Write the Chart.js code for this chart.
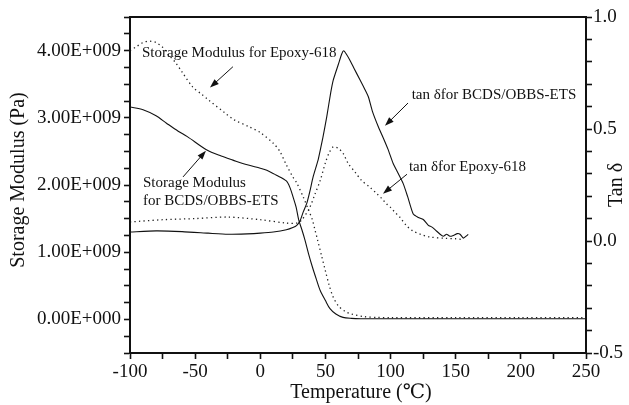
<!DOCTYPE html>
<html>
<head>
<meta charset="utf-8">
<script src="https://cdn.jsdelivr.net/npm/chart.js@4"></script>
<style>
  html, body { margin: 0; padding: 0; background: #fff; }
  #wrap { width: 629px; height: 405px; }
</style>
</head>
<body>
<div id="wrap"><canvas id="dmaChart" width="629" height="405"></canvas></div>
<script>
// Storage modulus (x1e9 Pa) vs temperature
const epoxyModT = [-100, -95, -90, -85, -80, -75, -70, -65, -60, -52, -45, -40, -27, -20, -9, 0, 10, 15, 20, 25, 28, 33, 37, 40, 42, 44, 47, 50, 53, 56, 60, 65, 70, 80, 90, 100, 150, 200, 250];
const epoxyModE = [4.0, 4.06, 4.12, 4.14, 4.12, 4.05, 3.93, 3.82, 3.68, 3.46, 3.35, 3.27, 3.07, 2.97, 2.87, 2.78, 2.62, 2.5, 2.3, 2.12, 2.03, 1.82, 1.63, 1.48, 1.33, 1.18, 0.95, 0.72, 0.5, 0.33, 0.2, 0.12, 0.08, 0.04, 0.03, 0.025, 0.025, 0.025, 0.025];

const bcdsModT = [-100, -90, -80, -72, -63, -56, -41, -30, -21, -10, 0, 5, 12, 20, 23, 25.5, 27.5, 29.5, 32, 34.3, 37, 40, 43, 46, 50, 53.5, 58, 63.5, 70, 77, 100, 150, 200, 250];
const bcdsModE = [3.16, 3.12, 3.03, 2.92, 2.80, 2.72, 2.52, 2.43, 2.37, 2.30, 2.25, 2.22, 2.15, 2.06, 1.95, 1.8, 1.67, 1.48, 1.33, 1.18, 0.98, 0.78, 0.6, 0.43, 0.28, 0.16, 0.08, 0.03, 0.015, 0.01, 0.01, 0.01, 0.01, 0.01];

// tan delta vs temperature
const bcdsTanT = [-100, -80, -60, -40, -25, -10, 0, 10, 20, 25, 28, 30.5, 33, 35.8, 38, 40.5, 44.3, 46, 48, 51, 54, 56, 60, 62.5, 64, 66, 68.8, 72, 76.5, 80, 83, 86, 90.6, 94.4, 98, 102, 106, 109.7, 113, 117.4, 121.3, 125.1, 129, 131.5, 134.1, 138, 140.5, 143, 145.6, 148.2, 151.3, 153.3, 155.9, 158.5, 159.6];
const bcdsTan = [0.04, 0.045, 0.042, 0.035, 0.03, 0.032, 0.035, 0.04, 0.05, 0.06, 0.07, 0.09, 0.13, 0.17, 0.22, 0.285, 0.36, 0.405, 0.46, 0.554, 0.66, 0.718, 0.79, 0.835, 0.849, 0.835, 0.807, 0.77, 0.72, 0.68, 0.643, 0.58, 0.51, 0.46, 0.41, 0.346, 0.30, 0.256, 0.20, 0.12, 0.105, 0.096, 0.07, 0.063, 0.051, 0.03, 0.021, 0.03, 0.021, 0.025, 0.033, 0.03, 0.013, 0.024, 0.03];

const epoxyTanT = [-100, -75, -50, -25, 0, 20, 28, 32, 38, 42, 46, 50, 53, 56, 60, 63.7, 67.5, 72.7, 77.8, 84.2, 89.3, 93.2, 97, 100, 103, 107, 112, 117, 123, 130, 142, 150, 156];
const epoxyTan = [0.085, 0.095, 0.10, 0.107, 0.095, 0.08, 0.08, 0.095, 0.15, 0.21, 0.27, 0.35, 0.395, 0.42, 0.413, 0.39, 0.346, 0.308, 0.27, 0.24, 0.212, 0.19, 0.165, 0.15, 0.13, 0.107, 0.07, 0.045, 0.03, 0.018, 0.012, 0.01, 0.006];

// axis ranges / ticks
const xRange = [-100, 250];
const modRange = [-0.5e9, 4.5e9];
const tanRange = [-0.5, 1.0];

// annotations: text placed in (temperature, modulus) units, arrows from -> to
const notes = [
  { lines: ["Storage Modulus for Epoxy-618"], t: -90.8, e: 3.97, from: [-21, 3.76], to: [-38.6, 3.45] },
  { lines: ["Storage Modulus", "for BCDS/OBBS-ETS"], t: -90, e: 2.03, from: [-59.3, 2.12], to: [-41.7, 2.51] },
  { lines: ["tan \u03b4for BCDS/OBBS-ETS"], t: 116.2, e: 3.34, from: [113.4, 3.22], to: [95.7, 2.88] },
  { lines: ["tan \u03b4for Epoxy-618"], t: 114.1, e: 2.27, from: [112.6, 2.16], to: [94.2, 1.87] }
];

const toPoints = (xs, ys, k) => xs.map((x, i) => ({ x: x, y: ys[i] * k }));
const serif = "'Liberation Serif', 'DejaVu Serif', serif";
const ink = "#111";

function modLabel(v) {
  const n = v / 1e9;
  if (Math.abs(n - Math.round(n)) > 1e-6) return "";
  return n.toFixed(2) + (Math.round(n) === 0 ? "E+000" : "E+009");
}

function arrow(ctx, x1, y1, x2, y2) {
  const a = Math.atan2(y2 - y1, x2 - x1);
  const len = 9, w = 3.2;
  ctx.beginPath();
  ctx.moveTo(x1, y1);
  ctx.lineTo(x2 - Math.cos(a) * len * 0.8, y2 - Math.sin(a) * len * 0.8);
  ctx.stroke();
  ctx.beginPath();
  ctx.moveTo(x2, y2);
  ctx.lineTo(x2 - Math.cos(a) * len - Math.sin(a) * w, y2 - Math.sin(a) * len + Math.cos(a) * w);
  ctx.lineTo(x2 - Math.cos(a) * len + Math.sin(a) * w, y2 - Math.sin(a) * len - Math.cos(a) * w);
  ctx.closePath();
  ctx.fill();
}

const extras = {
  id: "extras",
  afterDraw(chart) {
    const { ctx, chartArea: a, scales } = chart;
    const xs = scales.x, ys = scales.y;
    ctx.save();
    // frame
    ctx.strokeStyle = ink;
    ctx.lineWidth = 2;
    ctx.strokeRect(a.left, a.top, a.right - a.left, a.bottom - a.top);

    // annotations
    ctx.fillStyle = ink;
    ctx.lineWidth = 1;
    ctx.font = "15px " + serif;
    ctx.textBaseline = "middle";
    ctx.textAlign = "left";
    notes.forEach(n => {
      const px = xs.getPixelForValue(n.t);
      const py = ys.getPixelForValue(n.e * 1e9);
      n.lines.forEach((s, i) => ctx.fillText(s, px, py + i * 18));
      arrow(ctx,
        xs.getPixelForValue(n.from[0]), ys.getPixelForValue(n.from[1] * 1e9),
        xs.getPixelForValue(n.to[0]), ys.getPixelForValue(n.to[1] * 1e9));
    });

    // axis titles
    ctx.font = "20px " + serif;
    ctx.textAlign = "center";
    ctx.fillText("Temperature (\u2103)", 361, 393);
    ctx.save();
    ctx.translate(19, 180);
    ctx.rotate(-Math.PI / 2);
    ctx.fillText("Storage Modulus (Pa)", 0, 0);
    ctx.restore();
    ctx.save();
    ctx.translate(617, 185);
    ctx.rotate(-Math.PI / 2);
    ctx.fillText("Tan \u03b4", 0, 0);
    ctx.restore();
    ctx.restore();
  }
};

const solid = { borderColor: ink, borderWidth: 1.1, pointRadius: 0, fill: false };
const dotted = { borderColor: "#222", borderWidth: 1.3, borderDash: [1.3, 3.2], pointRadius: 0, fill: false };

const tickFont = { family: serif, size: 19 };
const axisGrid = { display: true, drawOnChartArea: false, drawTicks: true, tickLength: 6, color: ink, tickColor: ink, tickWidth: 1.6 };
const axisBorder = { display: true, color: ink, width: 2 };

new Chart(document.getElementById("dmaChart").getContext("2d"), {
  type: "line",
  data: {
    datasets: [
      Object.assign({ label: "Storage Modulus for Epoxy-618", data: toPoints(epoxyModT, epoxyModE, 1e9), yAxisID: "y", tension: 0.3 }, dotted),
      Object.assign({ label: "Storage Modulus for BCDS/OBBS-ETS", data: toPoints(bcdsModT, bcdsModE, 1e9), yAxisID: "y", tension: 0.3 }, solid),
      Object.assign({ label: "tan \u03b4 for BCDS/OBBS-ETS", data: toPoints(bcdsTanT, bcdsTan, 1), yAxisID: "y2", tension: 0.2 }, solid),
      Object.assign({ label: "tan \u03b4 for Epoxy-618", data: toPoints(epoxyTanT, epoxyTan, 1), yAxisID: "y2", tension: 0.3 }, dotted)
    ]
  },
  options: {
    responsive: false,
    animation: false,
    layout: { padding: { top: 17, left: 0, right: 0, bottom: 0 } },
    plugins: { legend: { display: false }, tooltip: { enabled: false } },
    scales: {
      x: {
        type: "linear",
        min: xRange[0], max: xRange[1],
        grid: axisGrid, border: axisBorder,
        afterFit: s => { s.height = 52; },
        ticks: {
          stepSize: 25, maxTicksLimit: 100, autoSkip: false, maxRotation: 0, padding: 2,
          color: ink, font: tickFont,
          callback: v => (v % 50 === 0 ? String(v) : "")
        }
      },
      y: {
        type: "linear", position: "left",
        min: modRange[0], max: modRange[1],
        grid: axisGrid, border: axisBorder,
        afterFit: s => { s.width = 130; },
        ticks: {
          stepSize: 0.25e9, maxTicksLimit: 100, autoSkip: false, padding: 3,
          color: ink, font: tickFont,
          callback: v => modLabel(v)
        }
      },
      y2: {
        type: "linear", position: "right",
        min: tanRange[0], max: tanRange[1],
        grid: axisGrid, border: axisBorder,
        afterFit: s => { s.width = 43; },
        ticks: {
          stepSize: 0.1, maxTicksLimit: 100, autoSkip: false, padding: 1,
          color: ink, font: tickFont,
          callback: v => (Math.abs(v * 2 - Math.round(v * 2)) < 1e-6 ? v.toFixed(1) : "")
        }
      }
    }
  },
  plugins: [extras]
});
</script>
</body>
</html>
